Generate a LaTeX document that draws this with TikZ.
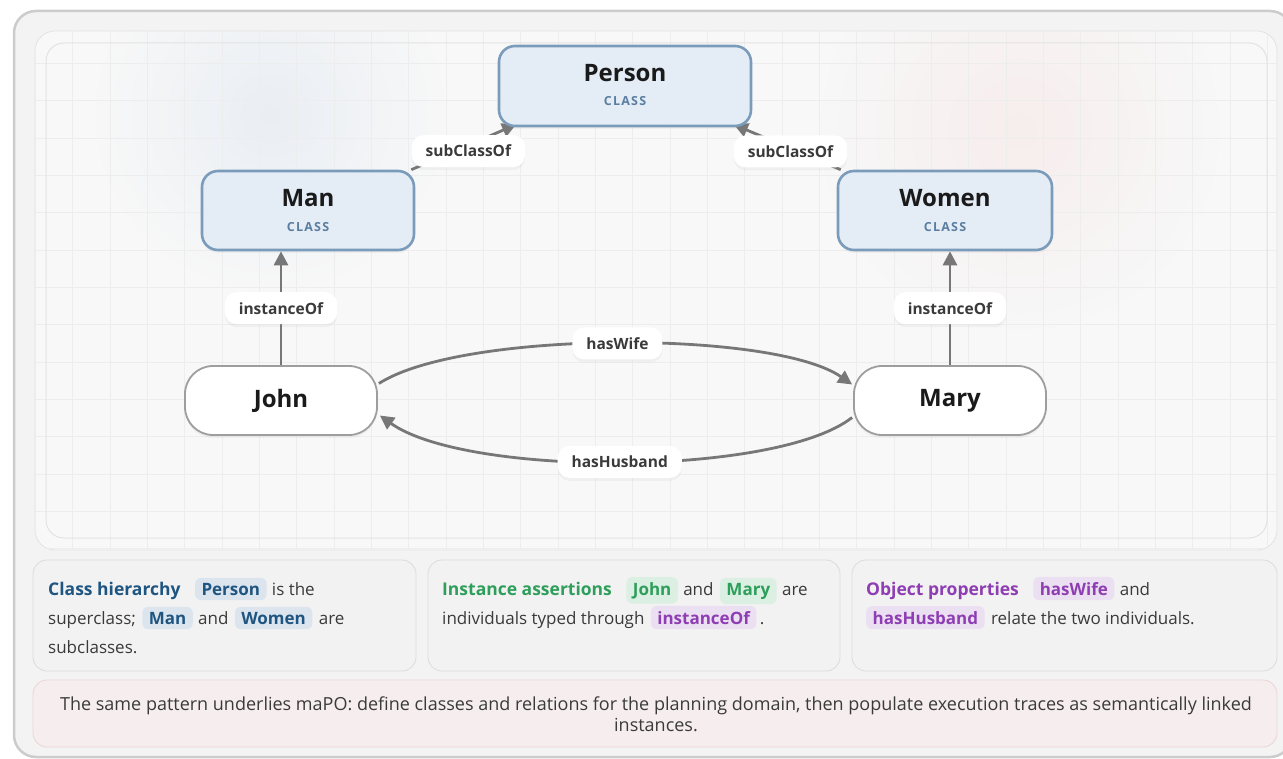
\documentclass[tikz,border=0pt]{standalone}
\usepackage{fontspec}
\setmainfont{Open Sans}
\newfontfamily\tagfamily[LetterSpace=10]{Open Sans}
\usetikzlibrary{arrows.meta,calc,fadings,shadows}

\pgfdeclarelayer{bg}
\pgfdeclarelayer{edges}
\pgfsetlayers{bg,edges,main}

\definecolor{frameline}{HTML}{CCCCCC}
\definecolor{framefill}{HTML}{F3F3F3}
\definecolor{panelfill}{HTML}{F8F8F8}
\definecolor{panelline}{HTML}{E3E3E3}
\definecolor{gridline}{HTML}{EDEDED}
\definecolor{clsfill}{HTML}{E4ECF5}
\definecolor{clsline}{HTML}{7B9BBB}
\definecolor{clstagink}{HTML}{5B7EA0}
\definecolor{inkdark}{HTML}{1A1A1A}
\definecolor{edgegray}{HTML}{777777}
\definecolor{indline}{HTML}{9E9E9E}
\definecolor{bodyink}{HTML}{3A3A3A}
\definecolor{notefill}{HTML}{F2F2F2}
\definecolor{noteline}{HTML}{DCDCDC}
\definecolor{footfill}{HTML}{F6EEEE}
\definecolor{footline}{HTML}{EBD5D5}
\definecolor{blueink}{HTML}{1F5581}
\definecolor{bluechip}{HTML}{DCE5EE}
\definecolor{greenink}{HTML}{2E9E5B}
\definecolor{greenchip}{HTML}{DCEFE3}
\definecolor{purpleink}{HTML}{8E3DB3}
\definecolor{purplechip}{HTML}{EBE0F1}
\definecolor{glowblue}{HTML}{E0E8F1}
\definecolor{glowpink}{HTML}{F6E4E4}

\tikzfading[name=glowfade, inner color=transparent!0, outer color=transparent!100]

\tikzset{
  softshadow/.style={drop shadow={opacity=0.07, shadow xshift=0pt, shadow yshift=-3pt}},
  cls/.style={draw=clsline, line width=2.6pt, fill=clsfill, rounded corners=16pt,
    minimum height=80pt, inner sep=0pt, softshadow},
  clstitle/.style={font=\fontsize{24}{28}\selectfont\bfseries, text=inkdark, inner sep=0pt, anchor=base},
  clstag/.style={font=\tagfamily\fontsize{12.5}{15}\selectfont\bfseries, text=clstagink, inner sep=0pt, anchor=base},
  indiv/.style={draw=indline, line width=1.8pt, fill=white, rounded corners=28pt,
    minimum width=192pt, minimum height=69pt, font=\fontsize{24}{28}\selectfont\bfseries,
    text=inkdark, softshadow},
  rel/.style={draw=edgegray, line width=2.8pt, -{Triangle[length=14pt,width=14pt]}},
  lbl/.style={fill=white, rounded corners=12pt, font=\fontsize{15.5}{18}\selectfont\bfseries,
    text=bodyink, inner xsep=14pt, inner ysep=0pt, minimum height=32pt, softshadow},
  note/.style={draw=noteline, line width=0.8pt, fill=notefill, rounded corners=14pt},
  body/.style={font=\fontsize{17}{21}\selectfont, text=bodyink, inner sep=0pt, anchor=base west},
  head/.style={body, font=\fontsize{17.5}{21}\selectfont\bfseries},
  chip/.style={body, font=\fontsize{17}{21}\selectfont\bfseries, inner xsep=6.5pt,
    inner ysep=5pt, rounded corners=6pt},
  summary/.style={body, font=\fontsize{18}{22}\selectfont, anchor=base},
}

\begin{document}
\begin{tikzpicture}[x=1pt, y=-1pt]
\useasboundingbox (0,0) rectangle (1283,759);

% ---------- frame, canvas and grid ----------
\begin{pgfonlayer}{bg}
  \draw[draw=frameline, line width=2.5pt, fill=framefill, rounded corners=22pt]
    (14,11) rectangle (1292,757);
  \path[fill=panelfill, draw=panelline, line width=0.8pt, rounded corners=20pt]
    (35,31) rectangle (1277,550);
  \begin{scope}
    \clip[rounded corners=20pt] (35,31) rectangle (1277,550);
    \fill[glowblue, path fading=glowfade, fill opacity=0.6] (270,115) circle (175pt);
    \fill[glowpink, path fading=glowfade, fill opacity=0.55] (1020,130) circle (200pt);
    \foreach \i in {0,...,33} {
      \draw[gridline, line width=0.7pt] ({35.4+37.33*\i},31) -- ++(0,519);
    }
    \foreach \j in {0,...,14} {
      \draw[gridline, line width=0.7pt] (35,{26+37.33*\j}) -- ++(1242,0);
    }
  \end{scope}
  \draw[panelline, line width=1pt, rounded corners=18pt] (46,43) rectangle (1267,538);

  % explanation cards
  \path[note] (33,560) rectangle (416,671);
  \path[note] (428,560) rectangle (840,671);
  \path[note] (852,560) rectangle (1277,671);
  \path[draw=footline, line width=0.8pt, fill=footfill, rounded corners=14pt]
    (33,680) rectangle (1277,747);
\end{pgfonlayer}

% ---------- classes ----------
\node[cls, minimum width=252pt] (Person) at (625,86) {};
\node[clstitle] (Person-title) at ($(Person.center)+(0,-4)$) {Person};
\node[clstag] (Person-tag) at ($(Person.center)+(0,20)$) {CLASS};

\node[cls, minimum width=212pt, minimum height=79pt] (Man) at (308,210.5) {};
\node[clstitle] (Man-title) at ($(Man.center)+(0,-4)$) {Man};
\node[clstag] (Man-tag) at ($(Man.center)+(0,21)$) {CLASS};

\node[cls, minimum width=214pt, minimum height=79pt] (Women) at (945,210.5) {};
\node[clstitle] (Women-title) at ($(Women.center)+(0,-4)$) {Women};
\node[clstag] (Women-tag) at ($(Women.center)+(0,21)$) {CLASS};

% ---------- individuals ----------
\node[indiv] (John) at (281,400.5) {John};
\node[indiv] (Mary) at (950,400.5) {Mary};

% ---------- relations ----------
\begin{pgfonlayer}{edges}
  \draw[rel, shorten >=-7pt] ($(Man.north east)+(-4,0)$) --
    node[lbl, pos=0.58, yshift=-6pt] (sub-man) {subClassOf} ($(Person.south west)+(12,0)$);
  \draw[rel, shorten >=-7pt] ($(Women.north west)+(4,0)$) --
    node[lbl, pos=0.5, yshift=-3pt] (sub-women) {subClassOf} ($(Person.south east)+(-12,0)$);
  \draw[rel] (John.north) -- node[lbl] (inst-john) {instanceOf} (John.north |- Man.south);
  \draw[rel] (Mary.north) -- node[lbl] (inst-mary) {instanceOf} (Mary.north |- Women.south);
  \draw[rel] ($(John.east)+(1,-17)$) .. controls (462,330) and (774,330) ..
    node[lbl] (wife) {hasWife} ($(Mary.west)+(-1,-16)$);
  \draw[rel] ($(Mary.west)+(-1,17)$) .. controls (776,477) and (466,477) ..
    node[lbl] (husband) {hasHusband} ($(John.east)+(2,15)$);
\end{pgfonlayer}

% ---------- card 1: class hierarchy ----------
\node[head, text=blueink] (c1-head) at (48,595) {Class hierarchy};
\node[chip, text=blueink, fill=bluechip] (c1-person) at ($(c1-head.base east)+(14,0)$) {Person};
\node[body] (c1-a) at ($(c1-person.base east)+(5,0)$) {is the};
\node[body] (c1-b) at (48,624) {superclass;};
\node[chip, text=blueink, fill=bluechip] (c1-man) at ($(c1-b.base east)+(6,0)$) {Man};
\node[body] (c1-c) at ($(c1-man.base east)+(5,0)$) {and};
\node[chip, text=blueink, fill=bluechip] (c1-women) at ($(c1-c.base east)+(6,0)$) {Women};
\node[body] (c1-d) at ($(c1-women.base east)+(6,0)$) {are};
\node[body] (c1-e) at (48,653) {subclasses.};

% ---------- card 2: instance assertions ----------
\node[head, text=greenink] (c2-head) at (442,595) {Instance assertions};
\node[chip, text=greenink, fill=greenchip] (c2-john) at ($(c2-head.base east)+(14,0)$) {John};
\node[body] (c2-a) at ($(c2-john.base east)+(5,0)$) {and};
\node[chip, text=greenink, fill=greenchip] (c2-mary) at ($(c2-a.base east)+(6,0)$) {Mary};
\node[body] (c2-b) at ($(c2-mary.base east)+(5,0)$) {are};
\node[body] (c2-c) at (442,624) {individuals typed through};
\node[chip, text=purpleink, fill=purplechip] (c2-inst) at ($(c2-c.base east)+(6,0)$) {instanceOf};
\node[body] (c2-d) at ($(c2-inst.base east)+(3,0)$) {.};

% ---------- card 3: object properties ----------
\node[head, text=purpleink] (c3-head) at (866,595) {Object properties};
\node[chip, text=purpleink, fill=purplechip] (c3-wife) at ($(c3-head.base east)+(14,0)$) {hasWife};
\node[body] (c3-a) at ($(c3-wife.base east)+(5,0)$) {and};
\node[chip, text=purpleink, fill=purplechip] (c3-husband) at (866,624) {hasHusband};
\node[body] (c3-b) at ($(c3-husband.base east)+(6,0)$) {relate the two individuals.};

% ---------- summary ----------
\node[summary] (sum-1) at (656,710)
  {The same pattern underlies maPO: define classes and relations for the planning domain, then populate execution traces as semantically linked};
\node[summary] (sum-2) at (656,731) {instances.};
\end{tikzpicture}
\end{document}
